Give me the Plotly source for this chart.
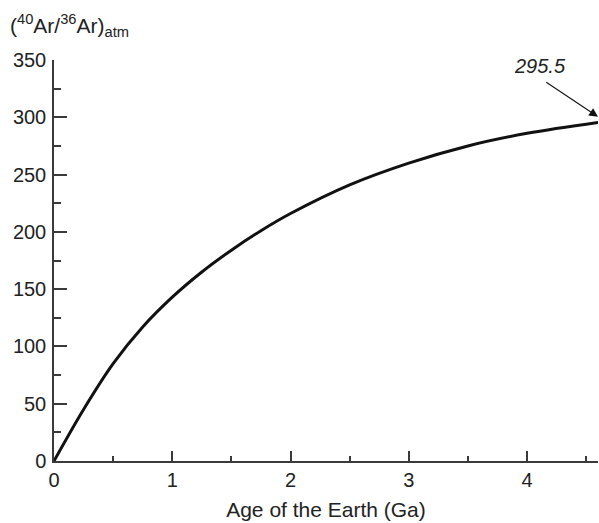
import plotly.graph_objects as go

# Evolution of the atmospheric 40Ar/36Ar ratio through Earth history
age_ga = [0, 0.25, 0.5, 0.75, 1.0, 1.25, 1.5, 1.75, 2.0, 2.5, 3.0, 3.5, 4.0, 4.6]
ar_ratio = [0, 45, 85, 117, 143, 165, 184, 201, 216, 241, 260, 275, 286, 295.5]

present_value = 295.5
present_age = 4.6

x_ticks = [0, 1, 2, 3, 4]
y_ticks = [0, 50, 100, 150, 200, 250, 300, 350]

FONT = "Liberation Sans, Arial, Helvetica, sans-serif"
INK = "#111111"
AXIS = "#3a3a3a"
TEXT = "#222222"

fig = go.Figure()
fig.add_trace(go.Scatter(
    x=age_ga, y=ar_ratio, mode="lines",
    line=dict(color=INK, width=3, shape="spline", smoothing=1.0),
    hoverinfo="skip", showlegend=False,
))

axis_common = dict(
    showgrid=False, zeroline=False, showline=True, linecolor=AXIS, linewidth=1.5,
    ticks="inside", tickcolor=AXIS, tickwidth=1.5,
    tickfont=dict(family=FONT, size=20, color=TEXT),
)

fig.update_xaxes(
    range=[0, 4.6], tickvals=x_ticks, ticklen=10,
    minor=dict(ticks="inside", dtick=0.5, tick0=0, ticklen=5, tickcolor=AXIS, tickwidth=1.5),
    title=dict(text="Age of the Earth (Ga)", font=dict(family=FONT, size=21, color=TEXT),
               standoff=13),
    **axis_common,
)
fig.update_yaxes(
    range=[0, 350], tickvals=y_ticks, ticklen=13,
    minor=dict(ticks="inside", dtick=25, tick0=0, ticklen=7, tickcolor=AXIS, tickwidth=1.5),
    ticklabelstandoff=2,
    **axis_common,
)

# y-axis title placed above the axis
fig.add_annotation(
    text="(<sup>40</sup>Ar/<sup>36</sup>Ar)<sub>atm</sub>",
    xref="paper", yref="paper", x=-0.085, y=1.085, xanchor="left", yanchor="middle",
    showarrow=False, font=dict(family=FONT, size=21, color=TEXT),
)

# arrow pointing at the present-day value
fig.add_annotation(
    x=present_age, y=present_value + 5, xref="x", yref="y",
    ax=4.15, ay=331.5, axref="x", ayref="y",
    text="", showarrow=True, arrowhead=2, arrowsize=1.6, arrowwidth=1.1,
    arrowcolor=INK,
)
fig.add_annotation(
    x=4.11, y=345, xref="x", yref="y", xanchor="center", yanchor="middle",
    text=f"<i>{present_value}</i>", showarrow=False,
    font=dict(family=FONT, size=20, color=TEXT),
)

fig.update_layout(
    width=599, height=523,
    margin=dict(l=54, r=1, t=60, b=62),
    paper_bgcolor="white", plot_bgcolor="white",
)

fig.write_html("out.html")
